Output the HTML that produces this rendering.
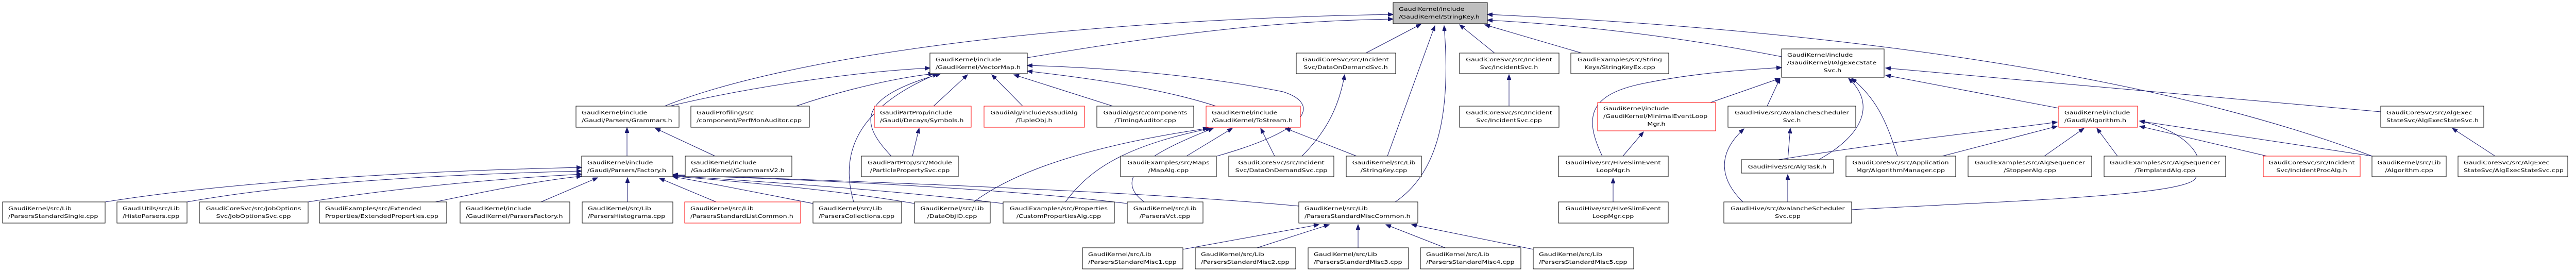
<!DOCTYPE html>
<html><head><meta charset="utf-8"><style>
html,body{margin:0;padding:0;background:#fff;}
svg{display:block;}
text{font-family:"DejaVu Sans","Liberation Sans",sans-serif;font-size:10px;fill:#000;transform-box:fill-box;transform:scaleX(1.27);}
text.l{transform-origin:0% 50%;}
text.c{text-anchor:middle;transform-origin:50% 50%;}
rect{fill:#fff;stroke:#000;stroke-width:1;}
rect.r{stroke:#f00;}
rect.g{fill:#bfbfbf;}
path.e{fill:none;stroke:#191970;stroke-width:1;marker-end:url(#a);}
</style></head><body>
<svg width="5010" height="528" viewBox="0 0 5010 528" xmlns="http://www.w3.org/2000/svg">
<defs><marker id="a" markerUnits="userSpaceOnUse" markerWidth="11" markerHeight="8" refX="10" refY="4" orient="auto"><path d="M0,0 L10,4 L0,8 z" fill="#191970" stroke="#191970"/></marker></defs>

<!-- edges -->
<path class="e" d="M1290,206 C1500,120 2000,40 2704,28"/>
<path class="e" d="M1300,206 C1450,170 1650,140 1805,132"/>
<path class="e" d="M1545,206 C1650,170 1750,150 1812,143"/>
<path class="e" d="M1657,392 C1630,300 1660,210 1820,143"/>
<path class="e" d="M1730,303 C1670,240 1660,190 1826,143"/>
<path class="e" d="M1812,206 L1878,145"/>
<path class="e" d="M1985,206 L1925,145"/>
<path class="e" d="M2160,206 L1968,145"/>
<path class="e" d="M2360,206 C2250,170 2100,150 1994,138"/>
<path class="e" d="M2362,303 C2550,250 2560,200 2490,178 C2300,140 2100,130 1994,127"/>
<path class="e" d="M1994,112 C2300,60 2500,40 2704,37"/>
<path class="e" d="M1890,392 C2000,310 2200,270 2345,249"/>
<path class="e" d="M2068,392 C2120,320 2200,280 2350,249"/>
<path class="e" d="M2221,392 C2150,340 2250,290 2355,249"/>
<path class="e" d="M2303,303 L2392,249"/>
<path class="e" d="M2474,303 L2447,249"/>
<path class="e" d="M2633,303 L2495,249"/>
<path class="e" d="M2527,303 C2580,250 2600,200 2610,145"/>
<path class="e" d="M2651,103 L2758,47"/>
<path class="e" d="M2693,303 L2785,50"/>
<path class="e" d="M2708,392 C2800,330 2815,200 2803,50"/>
<path class="e" d="M2901,103 L2833,48"/>
<path class="e" d="M3070,103 L2882,48"/>
<path class="e" d="M3458,110 C3200,60 3000,45 2887,39"/>
<path class="e" d="M4604,303 C4200,150 3600,60 2887,28"/>
<path class="e" d="M2929,206 L2929,145"/>
<path class="e" d="M1217,303 L1217,248"/>
<path class="e" d="M1388,303 L1272,249"/>
<path class="e" d="M204,392 C500,345 900,330 1129,325"/>
<path class="e" d="M363,392 C600,350 900,338 1129,332"/>
<path class="e" d="M598,392 C800,360 1000,345 1129,338"/>
<path class="e" d="M845,392 C950,370 1050,350 1129,342"/>
<path class="e" d="M1050,392 L1160,345"/>
<path class="e" d="M1218,392 L1218,345"/>
<path class="e" d="M1390,392 L1280,346"/>
<path class="e" d="M1578,395 C1450,370 1350,350 1306,343"/>
<path class="e" d="M1775,395 C1600,365 1400,350 1306,342"/>
<path class="e" d="M1947,395 C1700,365 1400,348 1306,341"/>
<path class="e" d="M2188,395 C1900,360 1450,345 1306,340"/>
<path class="e" d="M2521,400 C2200,370 1600,350 1306,339"/>
<path class="e" d="M1771,303 L1784,249"/>
<path class="e" d="M2296,484 L2560,436"/>
<path class="e" d="M2440,481 L2580,436"/>
<path class="e" d="M2636,481 L2636,436"/>
<path class="e" d="M2805,481 L2690,436"/>
<path class="e" d="M2976,484 L2740,436"/>
<path class="e" d="M3320,199 L3455,152"/>
<path class="e" d="M3110,303 C3070,220 3090,180 3200,160 C3300,140 3400,135 3458,131"/>
<path class="e" d="M3150,303 L3190,256"/>
<path class="e" d="M3131,392 L3131,346"/>
<path class="e" d="M3430,206 L3455,152"/>
<path class="e" d="M3530,310 C3620,260 3640,200 3588,152"/>
<path class="e" d="M3683,303 C3660,230 3640,190 3594,152"/>
<path class="e" d="M3996,210 L3660,146"/>
<path class="e" d="M4621,217 L3660,132"/>
<path class="e" d="M3470,310 L3475,249"/>
<path class="e" d="M3383,392 C3340,350 3330,300 3385,250"/>
<path class="e" d="M3470,392 L3470,339"/>
<path class="e" d="M3452,310 C3700,270 3900,250 3993,237"/>
<path class="e" d="M3770,303 L3993,245"/>
<path class="e" d="M3968,303 L4045,249"/>
<path class="e" d="M4110,303 L4070,249"/>
<path class="e" d="M4400,303 L4153,245"/>
<path class="e" d="M4604,303 L4153,235"/>
<path class="e" d="M3594,407 C3900,390 4250,380 4262,345 C4290,300 4230,250 4153,235"/>
<path class="e" d="M4843,303 L4760,249"/>

<!-- R1 -->
<rect class="g" x="2704" y="5" width="183" height="41"/>
<text class="l" x="2715" y="21">GaudiKernel/include</text><text class="l" x="2715" y="36">/GaudiKernel/StringKey.h</text>

<!-- R2 -->
<rect x="1805" y="103" width="189" height="40"/>
<text class="l" x="1816" y="119">GaudiKernel/include</text><text class="l" x="1816" y="134">/GaudiKernel/VectorMap.h</text>
<rect x="2516" y="103" width="193" height="40"/>
<text class="c" x="2612" y="119">GaudiCoreSvc/src/Incident</text><text class="c" x="2612" y="134">Svc/DataOnDemandSvc.h</text>
<rect x="2833" y="103" width="193" height="40"/>
<text class="c" x="2929" y="119">GaudiCoreSvc/src/Incident</text><text class="c" x="2929" y="134">Svc/IncidentSvc.h</text>
<rect x="3049" y="103" width="190" height="40"/>
<text class="c" x="3144" y="119">GaudiExamples/src/String</text><text class="c" x="3144" y="134">Keys/StringKeyEx.cpp</text>
<rect x="3458" y="95" width="199" height="55"/>
<text class="l" x="3469" y="110">GaudiKernel/include</text><text class="l" x="3469" y="125">/GaudiKernel/IAlgExecState</text><text class="c" x="3557" y="140">Svc.h</text>

<!-- R3 -->
<rect x="1118" y="206" width="200" height="41"/>
<text class="l" x="1129" y="222">GaudiKernel/include</text><text class="l" x="1129" y="237">/Gaudi/Parsers/Grammars.h</text>
<rect x="1341" y="206" width="230" height="41"/>
<text class="l" x="1352" y="222">GaudiProfiling/src</text><text class="l" x="1352" y="237">/component/PerfMonAuditor.cpp</text>
<rect class="r" x="1697" y="206" width="188" height="41"/>
<text class="l" x="1708" y="222">GaudiPartProp/include</text><text class="l" x="1708" y="237">/Gaudi/Decays/Symbols.h</text>
<rect class="r" x="1910" y="206" width="195" height="41"/>
<text class="c" x="2007" y="222">GaudiAlg/include/GaudiAlg</text><text class="c" x="2007" y="237">/TupleObj.h</text>
<rect x="2129" y="206" width="188" height="41"/>
<text class="c" x="2223" y="222">GaudiAlg/src/components</text><text class="c" x="2223" y="237">/TimingAuditor.cpp</text>
<rect class="r" x="2341" y="206" width="183" height="41"/>
<text class="l" x="2352" y="222">GaudiKernel/include</text><text class="l" x="2352" y="237">/GaudiKernel/ToStream.h</text>
<rect x="2833" y="206" width="193" height="41"/>
<text class="c" x="2929" y="222">GaudiCoreSvc/src/Incident</text><text class="c" x="2929" y="237">Svc/IncidentSvc.cpp</text>
<rect class="r" x="3101" y="199" width="229" height="55"/>
<text class="l" x="3112" y="214">GaudiKernel/include</text><text class="l" x="3112" y="229">/GaudiKernel/MinimalEventLoop</text><text class="c" x="3215" y="244">Mgr.h</text>
<rect x="3354" y="206" width="248" height="41"/>
<text class="c" x="3478" y="222">GaudiHive/src/AvalancheScheduler</text><text class="c" x="3478" y="237">Svc.h</text>
<rect class="r" x="3996" y="206" width="153" height="41"/>
<text class="l" x="4007" y="222">GaudiKernel/include</text><text class="l" x="4007" y="237">/Gaudi/Algorithm.h</text>
<rect x="4621" y="206" width="200" height="41"/>
<text class="l" x="4632" y="222">GaudiCoreSvc/src/AlgExec</text><text class="l" x="4632" y="237">StateSvc/AlgExecStateSvc.h</text>

<!-- R4 -->
<rect x="1129" y="303" width="177" height="40"/>
<text class="l" x="1140" y="319">GaudiKernel/include</text><text class="l" x="1140" y="334">/Gaudi/Parsers/Factory.h</text>
<rect x="1330" y="303" width="207" height="40"/>
<text class="l" x="1341" y="319">GaudiKernel/include</text><text class="l" x="1341" y="334">/GaudiKernel/GrammarsV2.h</text>
<rect x="1672" y="303" width="188" height="40"/>
<text class="c" x="1766" y="319">GaudiPartProp/src/Module</text><text class="c" x="1766" y="334">/ParticlePropertySvc.cpp</text>
<rect x="2175" y="303" width="186" height="40"/>
<text class="c" x="2268" y="319">GaudiExamples/src/Maps</text><text class="c" x="2268" y="334">/MapAlg.cpp</text>
<rect x="2385" y="303" width="204" height="40"/>
<text class="c" x="2487" y="319">GaudiCoreSvc/src/Incident</text><text class="c" x="2487" y="334">Svc/DataOnDemandSvc.cpp</text>
<rect x="2613" y="303" width="146" height="40"/>
<text class="c" x="2686" y="319">GaudiKernel/src/Lib</text><text class="c" x="2686" y="334">/StringKey.cpp</text>
<rect x="3025" y="303" width="213" height="40"/>
<text class="c" x="3131" y="319">GaudiHive/src/HiveSlimEvent</text><text class="c" x="3131" y="334">LoopMgr.h</text>
<rect x="3380" y="310" width="179" height="26"/>
<text class="c" x="3469" y="327">GaudiHive/src/AlgTask.h</text>
<rect x="3583" y="303" width="213" height="40"/>
<text class="c" x="3689" y="319">GaudiCoreSvc/src/Application</text><text class="c" x="3689" y="334">Mgr/AlgorithmManager.cpp</text>
<rect x="3820" y="303" width="240" height="40"/>
<text class="c" x="3940" y="319">GaudiExamples/src/AlgSequencer</text><text class="c" x="3940" y="334">/StopperAlg.cpp</text>
<rect x="4084" y="303" width="236" height="40"/>
<text class="c" x="4202" y="319">GaudiExamples/src/AlgSequencer</text><text class="c" x="4202" y="334">/TemplatedAlg.cpp</text>
<rect class="r" x="4393" y="303" width="188" height="40"/>
<text class="c" x="4487" y="319">GaudiCoreSvc/src/Incident</text><text class="c" x="4487" y="334">Svc/IncidentProcAlg.h</text>
<rect x="4604" y="303" width="144" height="40"/>
<text class="c" x="4676" y="319">GaudiKernel/src/Lib</text><text class="c" x="4676" y="334">/Algorithm.cpp</text>
<rect x="4771" y="303" width="213" height="40"/>
<text class="l" x="4782" y="319">GaudiCoreSvc/src/AlgExec</text><text class="l" x="4782" y="334">StateSvc/AlgExecStateSvc.cpp</text>

<!-- R5 -->
<rect x="5" y="392" width="199" height="41"/>
<text class="l" x="16" y="408">GaudiKernel/src/Lib</text><text class="l" x="16" y="423">/ParsersStandardSingle.cpp</text>
<rect x="227" y="392" width="136" height="41"/>
<text class="l" x="238" y="408">GaudiUtils/src/Lib</text><text class="l" x="238" y="423">/HistoParsers.cpp</text>
<rect x="387" y="392" width="211" height="41"/>
<text class="c" x="492" y="408">GaudiCoreSvc/src/JobOptions</text><text class="c" x="492" y="423">Svc/JobOptionsSvc.cpp</text>
<rect x="620" y="392" width="247" height="41"/>
<text class="l" x="631" y="408">GaudiExamples/src/Extended</text><text class="l" x="631" y="423">Properties/ExtendedProperties.cpp</text>
<rect x="893" y="392" width="213" height="41"/>
<text class="l" x="904" y="408">GaudiKernel/include</text><text class="l" x="904" y="423">/GaudiKernel/ParsersFactory.h</text>
<rect x="1130" y="392" width="176" height="41"/>
<text class="l" x="1141" y="408">GaudiKernel/src/Lib</text><text class="l" x="1141" y="423">/ParsersHistograms.cpp</text>
<rect class="r" x="1329" y="392" width="225" height="41"/>
<text class="l" x="1340" y="408">GaudiKernel/src/Lib</text><text class="l" x="1340" y="423">/ParsersStandardListCommon.h</text>
<rect x="1578" y="392" width="172" height="41"/>
<text class="l" x="1589" y="408">GaudiKernel/src/Lib</text><text class="l" x="1589" y="423">/ParsersCollections.cpp</text>
<rect x="1775" y="392" width="147" height="41"/>
<text class="c" x="1848" y="408">GaudiKernel/src/Lib</text><text class="c" x="1848" y="423">/DataObjID.cpp</text>
<rect x="1947" y="392" width="216" height="41"/>
<text class="c" x="2055" y="408">GaudiExamples/src/Properties</text><text class="c" x="2055" y="423">/CustomPropertiesAlg.cpp</text>
<rect x="2188" y="392" width="147" height="41"/>
<text class="c" x="2261" y="408">GaudiKernel/src/Lib</text><text class="c" x="2261" y="423">/ParsersVct.cpp</text>
<rect x="2521" y="392" width="231" height="41"/>
<text class="l" x="2532" y="408">GaudiKernel/src/Lib</text><text class="l" x="2532" y="423">/ParsersStandardMiscCommon.h</text>
<rect x="3025" y="392" width="213" height="41"/>
<text class="c" x="3131" y="408">GaudiHive/src/HiveSlimEvent</text><text class="c" x="3131" y="423">LoopMgr.cpp</text>
<rect x="3346" y="392" width="248" height="41"/>
<text class="c" x="3470" y="408">GaudiHive/src/AvalancheScheduler</text><text class="c" x="3470" y="423">Svc.cpp</text>

<!-- R6 -->
<rect x="2101" y="481" width="195" height="41"/>
<text class="l" x="2112" y="497">GaudiKernel/src/Lib</text><text class="l" x="2112" y="512">/ParsersStandardMisc1.cpp</text>
<rect x="2320" y="481" width="195" height="41"/>
<text class="l" x="2331" y="497">GaudiKernel/src/Lib</text><text class="l" x="2331" y="512">/ParsersStandardMisc2.cpp</text>
<rect x="2539" y="481" width="195" height="41"/>
<text class="l" x="2550" y="497">GaudiKernel/src/Lib</text><text class="l" x="2550" y="512">/ParsersStandardMisc3.cpp</text>
<rect x="2757" y="481" width="195" height="41"/>
<text class="l" x="2768" y="497">GaudiKernel/src/Lib</text><text class="l" x="2768" y="512">/ParsersStandardMisc4.cpp</text>
<rect x="2976" y="481" width="195" height="41"/>
<text class="l" x="2987" y="497">GaudiKernel/src/Lib</text><text class="l" x="2987" y="512">/ParsersStandardMisc5.cpp</text>
</svg>
</body></html>
